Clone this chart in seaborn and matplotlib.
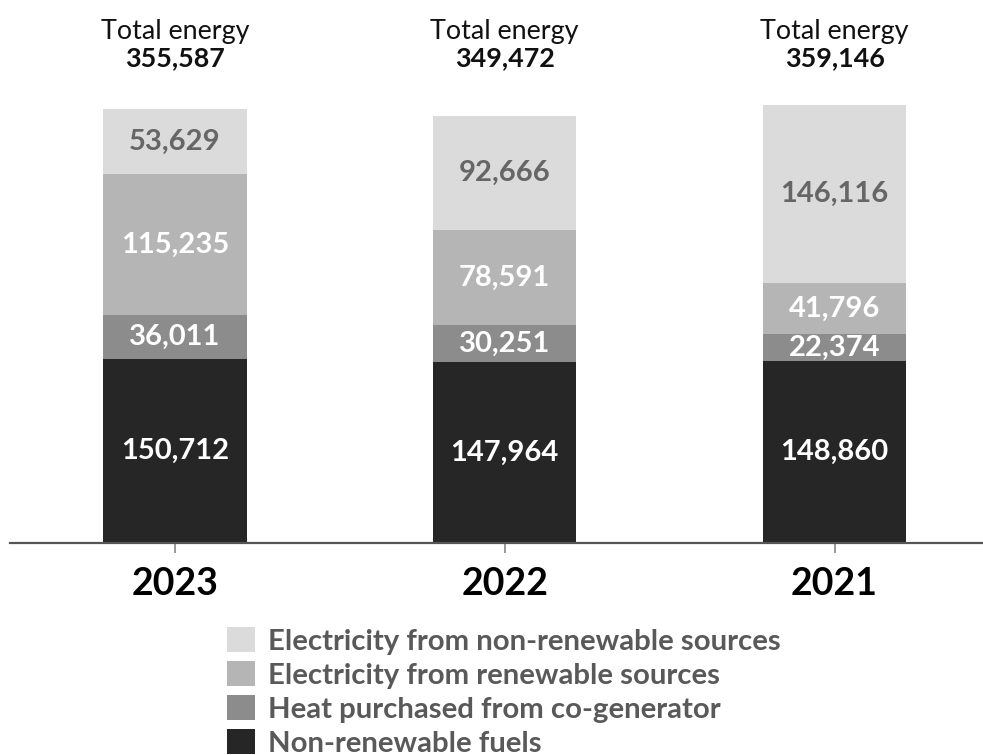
import matplotlib
matplotlib.use("Agg")
import matplotlib.pyplot as plt
from matplotlib.patches import Patch
import numpy as np
import pandas as pd
import seaborn as sns

# Energy consumption by source (stacked from the bottom up)
years = ["2023", "2022", "2021"]
non_renewable_fuels = [150712, 147964, 148860]
heat_cogenerator = [36011, 30251, 22374]
electricity_renewable = [115235, 78591, 41796]
electricity_non_renewable = [53629, 92666, 146116]
totals = [355587, 349472, 359146]

series_names = [
    "Non-renewable fuels",
    "Heat purchased from co-generator",
    "Electricity from renewable sources",
    "Electricity from non-renewable sources",
]
series_values = [non_renewable_fuels, heat_cogenerator,
                 electricity_renewable, electricity_non_renewable]
series_colors = ["#262626", "#8c8c8c", "#b5b5b5", "#dbdbdb"]
label_colors = ["white", "white", "white", "#666666"]

sns.set_theme(style="white")
plt.rcParams["font.family"] = ["Lato", "DejaVu Sans"]

fig = plt.figure(figsize=(9.83, 7.55), dpi=100)
ax = fig.add_axes([10 / 983, 212 / 755, 973 / 983, 543 / 755])

bottom = np.zeros(len(years))
for name, vals, col, lcol in zip(series_names, series_values,
                                  series_colors, label_colors):
    df = pd.DataFrame({"year": years, "value": vals})
    sns.barplot(data=df, x="year", y="value", order=years, color=col,
                width=0.435, bottom=bottom, saturation=1, ax=ax,
                linewidth=0, errorbar=None)
    for i, v in enumerate(vals):
        ax.text(i, bottom[i] + v / 2, f"{v:,}", ha="center", va="center",
                fontsize=21, fontweight="bold", color=lcol)
    bottom = bottom + np.array(vals)

ax.set_xlim(-0.5, 2.45)
ax.set_ylim(0, 444900)
ax.set_xlabel("")
ax.set_ylabel("")
ax.set_yticks([])
for s in ["top", "right", "left"]:
    ax.spines[s].set_visible(False)
ax.spines["bottom"].set_color("#555555")
ax.spines["bottom"].set_linewidth(1.6)
ax.tick_params(axis="x", bottom=True, length=7.5, width=1.2, color="#888888",
               pad=10, labelsize=27, labelcolor="black")
for lab in ax.get_xticklabels():
    lab.set_fontweight("bold")

# Totals above each column
for i, t in enumerate(totals):
    xf = ax.transData.transform((i, 0))[0] / fig.bbox.width
    fig.text(xf, 1 - 32 / 755, "Total energy", ha="center", va="center",
             fontsize=19.4, color="#111111")
    fig.text(xf, 1 - 58 / 755, f"{t:,}", ha="center", va="center",
             fontsize=19.4, fontweight="bold", color="#111111")

handles = [Patch(facecolor=c, edgecolor="none") for c in series_colors[::-1]]
leg = fig.legend(handles, series_names[::-1], loc="upper left",
                 bbox_to_anchor=(227 / 983, 1 - 627 / 755), frameon=False,
                 fontsize=21.2, handlelength=0.95, handleheight=0.95,
                 handletextpad=0.45, labelspacing=0.21, borderpad=0,
                 borderaxespad=0)
for txt in leg.get_texts():
    txt.set_color("#595959")
    txt.set_fontweight("bold")

fig.savefig("out.png", dpi=100)
